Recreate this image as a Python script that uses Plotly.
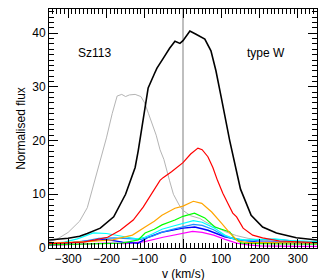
import plotly.graph_objects as go

# ---- data (velocity km/s, normalised flux) ----
gray_v = [-350, -330, -300, -270, -250, -240, -220, -200, -185, -172, -160, -150, -140, -125, -110, -100, -90, -80, -70, -60, -50, -35, -25, -10, 0, 20, 44, 60, 88, 112, 140, 170, 200, 250, 300, 350]
gray_f = [1.2, 1.6, 2.9, 5.0, 7.5, 10.0, 15.0, 20.5, 25.0, 28.3, 28.6, 28.2, 28.5, 28.6, 28.2, 27.0, 25.0, 22.8, 21.0, 18.3, 16.5, 12.5, 10.0, 8.0, 7.0, 6.0, 5.5, 4.8, 3.9, 3.0, 2.3, 1.8, 1.5, 1.2, 1.0, 0.9]

black_v = [-350, -300, -270, -250, -216, -181, -150, -125, -117, -100, -91, -75, -68, -50, -35, -21, -8, 0, 18, 34, 50, 57, 73, 86, 100, 122, 150, 178, 208, 244, 296, 350]
black_f = [1.5, 1.8, 2.2, 2.7, 3.7, 5.8, 10.0, 15.0, 18.1, 25.8, 29.8, 32.4, 33.5, 35.5, 37.2, 38.5, 38.1, 38.6, 40.4, 39.8, 39.2, 38.9, 36.7, 33.0, 28.0, 20.0, 11.0, 6.1, 3.9, 2.8, 1.9, 1.5]

red_v = [-350, -300, -260, -230, -197, -164, -130, -104, -78, -60, -52, -30, 0, 20, 39, 50, 65, 78, 90, 104, 118, 130, 140, 157, 182, 208, 252, 300, 350]
red_f = [0.8, 0.9, 1.1, 1.5, 2.0, 3.3, 5.2, 7.6, 10.7, 12.6, 13.1, 14.2, 15.9, 17.5, 18.6, 18.3, 17.0, 15.0, 12.6, 10.2, 8.2, 6.5, 5.8, 3.7, 2.4, 1.9, 1.3, 1.1, 1.0]

orange_v = [-350, -300, -250, -184, -150, -132, -99, -75, -55, -21, 0, 27, 49, 75, 101, 122, 143, 170, 220, 300, 350]
orange_f = [0.9, 1.0, 1.2, 1.5, 2.0, 2.4, 3.9, 5.0, 6.1, 7.4, 7.8, 8.7, 8.3, 6.7, 4.6, 2.8, 1.3, 1.0, 1.0, 0.9, 0.9]

green_v = [-350, -250, -158, -117, -99, -75, -55, -21, 0, 30, 57, 83, 109, 122, 135, 153, 200, 300, 350]
green_f = [0.6, 0.7, 0.9, 1.5, 2.8, 3.5, 4.3, 5.2, 5.9, 6.5, 5.6, 3.9, 3.3, 3.0, 1.8, 0.9, 0.8, 0.7, 0.7]

cyan_v = [-350, -310, -276, -250, -234, -200, -172, -145, -120, -100, -80, -55, -25, 0, 27, 50, 80, 109, 130, 160, 200, 240, 280, 350]
cyan_f = [0.8, 1.1, 1.7, 2.4, 2.8, 2.7, 2.4, 2.0, 1.7, 2.0, 2.6, 3.5, 4.1, 4.6, 5.1, 4.8, 3.8, 2.4, 1.8, 1.5, 1.6, 1.7, 1.4, 1.2]

ltblue_v = [-350, -300, -250, -220, -180, -140, -110, -80, -52, -25, 0, 27, 50, 80, 109, 140, 180, 220, 260, 300, 350]
ltblue_f = [0.7, 0.9, 1.4, 1.8, 1.9, 1.7, 1.6, 2.2, 3.0, 3.5, 4.0, 4.4, 4.2, 3.4, 2.2, 1.5, 1.3, 1.6, 1.5, 1.2, 1.0]

blue_v = [-350, -281, -229, -203, -158, -117, -91, -57, 0, 31, 65, 109, 153, 195, 239, 300, 350]
blue_f = [0.6, 1.1, 1.5, 1.6, 1.1, 0.9, 2.0, 2.9, 3.7, 3.9, 3.3, 2.1, 1.5, 1.1, 1.1, 1.0, 0.9]

magenta_v = [-350, -250, -200, -150, -100, -52, -20, 0, 25, 50, 80, 110, 140, 170, 200, 300, 350]
magenta_f = [0.5, 0.7, 0.9, 0.8, 1.2, 2.0, 2.5, 2.8, 3.1, 2.9, 2.4, 1.6, 0.9, 0.6, 0.4, 0.3, 0.3]

series = [
    (gray_v, gray_f, "#b4b4b4", 1.0),
    (magenta_v, magenta_f, "#ff00ff", 1.2),
    (blue_v, blue_f, "#0000ff", 1.4),
    (ltblue_v, ltblue_f, "#1e90ff", 1.2),
    (cyan_v, cyan_f, "#00ffff", 1.2),
    (green_v, green_f, "#00ff00", 1.2),
    (orange_v, orange_f, "#ffa500", 1.2),
    (red_v, red_f, "#ff0000", 1.2),
    (black_v, black_f, "#000000", 1.6),
]

ref_v = 0
x_range = [-350, 350]
y_range = [0, 44.5]
x_ticks = [-300, -200, -100, 0, 100, 200, 300]
y_ticks = [0, 10, 20, 30, 40]

fig = go.Figure()
for v, f, c, w in series:
    fig.add_trace(go.Scatter(x=v, y=f, mode="lines", line=dict(color=c, width=w),
                             showlegend=False, hoverinfo="skip"))

fig.add_shape(type="line", x0=ref_v, x1=ref_v, y0=0, y1=1, xref="x", yref="paper",
              line=dict(color="#aaaaaa", width=1.5), layer="below")

fig.add_annotation(x=-280, y=36.3, text="Sz113", showarrow=False, xanchor="left",
                   font=dict(size=12, color="black"))
fig.add_annotation(x=161, y=36.3, text="type W", showarrow=False, xanchor="left",
                   font=dict(size=12, color="black"))
fig.add_annotation(x=0.5, y=0, xref="paper", yref="paper", text="v (km/s)",
                   showarrow=False, xanchor="center", yanchor="top", yshift=-17,
                   font=dict(size=12, color="black"))

axis_common = dict(showline=True, linecolor="black", linewidth=1, mirror="ticks",
                   ticks="inside", ticklen=9, tickwidth=1, tickcolor="black",
                   showgrid=False, zeroline=False,
                   tickfont=dict(size=12, color="black"))

fig.update_xaxes(range=x_range, tickvals=x_ticks,
                 minor=dict(ticks="inside", ticklen=5, dtick=10, tickcolor="black", showgrid=False),
                 **axis_common)
fig.update_yaxes(range=y_range, tickvals=y_ticks, title=dict(text="Normalised flux", standoff=4,
                 font=dict(size=12, color="black")),
                 minor=dict(ticks="inside", ticklen=5, dtick=1, tickcolor="black", showgrid=False),
                 **axis_common)

fig.update_layout(width=327, height=280, margin=dict(l=49, r=10, t=9, b=32, autoexpand=False),
                  paper_bgcolor="white", plot_bgcolor="white",
                  font=dict(family="Liberation Sans, Arial, sans-serif", size=12, color="black"))

fig.write_html("out.html", config={"displayModeBar": False},
               post_script="document.body.style.margin='0';document.body.style.overflow='hidden';")
